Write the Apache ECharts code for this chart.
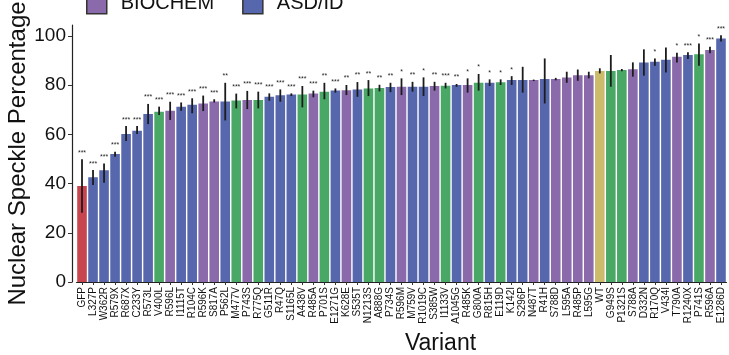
<!DOCTYPE html>
<html>
<head>
<meta charset="utf-8">
<script src="https://cdn.jsdelivr.net/npm/echarts@6/dist/echarts.min.js"></script>
<style>
html,body{margin:0;padding:0;background:#fff;}
#chart{width:729px;height:355px;}
</style>
</head>
<body>
<div id="chart"></div>
<script>
const categories = ['GFP','L327P','W362R','R579X','R687X','C233Y','R573L','V400L','R596L','I1115T','R104C','R596K','S817A','P562L','M477V','P743S','R775Q','G511R','R47Q','S1165L','A438V','R485A','P701S','E1271G','K628E','S535T','N1213S','A888G','P734S','R596M','M759V','R1019C','S385W','I1133V','A1045G','R485K','G800A','R815H','E119D','K142I','S296P','N487T','R41H','S788D','L595A','R485P','L595G','WT','G949S','P1321S','S788A','D332N','R170Q','V434I','T790A','R1240X','P741S','R596A','E1286D'];
const values = [39.0,42.6,45.4,52.0,60.2,61.5,68.3,69.2,69.6,71.3,72.1,72.6,73.4,73.4,73.8,74.0,74.0,75.3,75.9,76.2,76.2,76.6,77.4,77.9,78.0,78.3,78.7,78.9,79.3,79.4,79.4,79.4,79.7,79.8,80.1,80.1,81.0,81.0,81.2,82.1,82.1,82.1,82.5,82.5,83.2,84.1,84.1,85.8,85.8,86.2,86.5,89.3,89.6,90.4,91.6,92.3,92.6,94.3,99.0];
const errLow = [28.2,39.4,40.4,50.9,57.3,60.2,64.2,67.9,65.9,69.6,68.6,69.5,73.0,65.7,70.6,70.3,70.6,73.7,73.3,75.6,71.0,75.1,74.3,77.0,76.0,75.3,75.6,77.5,77.2,76.0,77.4,75.6,77.8,78.7,79.4,77.0,77.8,79.7,80.1,80.1,77.0,81.7,72.6,82.0,81.0,81.8,82.8,84.8,79.4,85.7,83.5,83.9,87.9,85.2,89.3,90.7,87.9,93.0,97.8];
const errHigh = [49.9,45.5,48.2,53.0,63.4,63.4,72.4,71.3,73.3,73.0,74.7,75.8,74.3,81.0,76.6,77.7,77.4,76.7,78.3,76.7,79.7,77.8,81.0,78.7,80.1,81.3,82.1,80.2,81.0,82.8,81.4,83.2,81.4,81.0,80.5,82.8,84.6,82.4,82.4,83.7,87.5,82.3,90.9,83.0,85.5,86.4,85.5,86.9,92.3,86.6,89.3,94.6,90.9,95.4,93.2,93.4,97.0,95.7,100.3];
const groups = ['GFP','ASD/ID','ASD/ID','ASD/ID','ASD/ID','ASD/ID','ASD/ID','Other','BIOCHEM','ASD/ID','ASD/ID','BIOCHEM','BIOCHEM','ASD/ID','Other','BIOCHEM','Other','ASD/ID','ASD/ID','ASD/ID','Other','BIOCHEM','Other','ASD/ID','BIOCHEM','ASD/ID','Other','Other','ASD/ID','BIOCHEM','ASD/ID','ASD/ID','BIOCHEM','Other','ASD/ID','BIOCHEM','Other','ASD/ID','Other','ASD/ID','ASD/ID','BIOCHEM','ASD/ID','BIOCHEM','BIOCHEM','BIOCHEM','BIOCHEM','WT','Other','Other','BIOCHEM','ASD/ID','ASD/ID','ASD/ID','BIOCHEM','ASD/ID','Other','BIOCHEM','ASD/ID'];
const stars = ['***','***','***','***','***','***','***','***','***','***','***','***','***','**','***','***','***','***','***','***','***','***','**','***','**','**','**','**','**','*','**','*','**','***','**','*','*','*','*','*','','','','','','','','','','','','','*','','*','***','*','***','***'];
const yTicks = [0,20,40,60,80,100];
const groupNames = ['GFP','BIOCHEM','ASD/ID','Other','WT'];
const groupColors = {'GFP':'#c8454f','BIOCHEM':'#8b6aab','ASD/ID':'#5767ad','Other':'#4aa866','WT':'#cbbb6a'};

const FONT = 'Liberation Sans, Arial, sans-serif';
const chart = echarts.init(document.getElementById('chart'), null, {renderer:'canvas'});

const barSeries = groupNames.map(g => ({
  name: g,
  type: 'bar',
  barWidth: 9.6,
  barGap: '-100%',
  itemStyle: {color: groupColors[g]},
  data: values.map((v, i) => groups[i] === g ? v : '-'),
  z: 2
}));

const errSeries = {
  type: 'custom',
  name: 'err',
  z: 10,
  data: categories.map((c, i) => [i, errLow[i], errHigh[i]]),
  encode: {x: 0, y: [1, 2]},
  renderItem: function (params, api) {
    const i = api.value(0);
    const lo = api.coord([i, api.value(1)]);
    const hi = api.coord([i, api.value(2)]);
    return {
      type: 'group',
      children: [
        {type: 'line', shape: {x1: lo[0], y1: lo[1], x2: hi[0], y2: hi[1]},
         style: {stroke: '#1c1c1c', lineWidth: 1.8}},
        {type: 'text', style: {text: stars[params.dataIndex], x: hi[0], y: hi[1] - 6.5,
         align: 'center', verticalAlign: 'middle', fontSize: 7, fontFamily: FONT, fill: '#222'}}
      ]
    };
  }
};

chart.setOption({
  animation: false,
  backgroundColor: '#fff',
  legend: {
    data: ['BIOCHEM', 'ASD/ID'],
    left: 86, top: -7, padding: 0,
    icon: 'rect', itemWidth: 20, itemHeight: 20, itemGap: 28,
    selectedMode: false,
    itemStyle: {borderColor: '#333', borderWidth: 1.5},
    textStyle: {fontSize: 20, fontFamily: FONT, color: '#111', padding: [0, 0, 0, 9]}
  },
  grid: {left: 76.5, right: 2.5, top: 25, bottom: 73, containLabel: false, outerBoundsMode: 'none'},
  xAxis: {
    type: 'category',
    data: categories,
    name: 'Variant',
    nameLocation: 'middle',
    nameGap: 50,
    nameTextStyle: {fontSize: 23, fontFamily: FONT, color: '#111', padding: [0, 0, 0, 78]},
    axisLine: {show: true, lineStyle: {color: '#222', width: 1.2}},
    axisTick: {show: true, alignWithLabel: true, length: 3, lineStyle: {color: '#333'}},
    axisLabel: {interval: 0, rotate: 90, fontSize: 10, fontFamily: FONT, color: '#111', margin: 5},
    splitLine: {show: false}
  },
  yAxis: {
    type: 'value',
    min: 0, max: 104.5,
    offset: 4.5,
    name: 'Nuclear Speckle Percentage',
    nameLocation: 'middle',
    nameGap: 42,
    nameMoveOverlap: false,
    nameTextStyle: {fontSize: 24, fontFamily: FONT, color: '#111'},
    axisLine: {show: true, lineStyle: {color: '#222', width: 1.2}},
    axisTick: {show: true, length: 4, customValues: yTicks, lineStyle: {color: '#333'}},
    axisLabel: {fontSize: 19, fontFamily: FONT, color: '#111', margin: 6, customValues: yTicks},
    splitLine: {show: false}
  },
  series: barSeries.concat([errSeries])
});
</script>
</body>
</html>
